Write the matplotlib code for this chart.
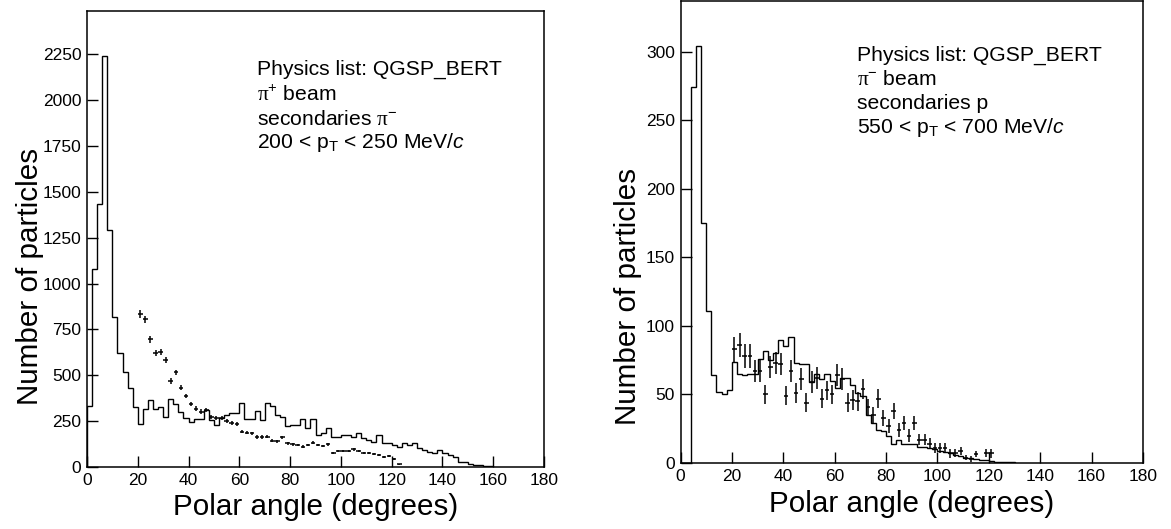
import numpy as np
import matplotlib
matplotlib.use("Agg")
import matplotlib.pyplot as plt

plt.rcParams['font.family'] = ['Liberation Sans', 'DejaVu Sans']
plt.rcParams['mathtext.fontset'] = 'custom'
plt.rcParams['mathtext.rm'] = 'Liberation Serif'
plt.rcParams['mathtext.it'] = 'Liberation Sans:italic'
plt.rcParams['mathtext.bf'] = 'Liberation Sans:bold'

# ---- left panel: pi+ beam, secondaries pi-, 200 < pT < 250 MeV/c
left_edges = np.arange(0, 162, 2)
left_sim = [334, 1080, 1435, 2240, 1290, 820, 624, 520, 429, 329,
            233, 318, 365, 318, 328, 274, 371, 344, 302, 265,
            247, 262, 262, 311, 256, 229, 265, 284, 293, 293,
            347, 262, 262, 308, 256, 347, 333, 282, 273, 226,
            229, 229, 260, 211, 260, 175, 184, 211, 165, 165,
            175, 175, 165, 184, 156, 147, 138, 175, 129, 129,
            120, 111, 129, 120, 129, 102, 93, 84, 78, 93,
            75, 65, 53, 29, 29, 16, 11, 11, 7, 5]
left_data_x = [21, 23, 25, 27, 29, 31, 33, 35, 37, 39, 41, 43, 45, 47, 49,
               51, 53, 55, 57, 59, 61, 63, 65, 67, 69, 71, 73, 75, 77, 79,
               81, 83, 85, 87, 89, 91, 93, 95, 97, 99, 101, 103, 105, 107,
               109, 111, 113, 115, 117, 119, 121, 123]
left_data_y = [835, 806, 697, 620, 626, 584, 469, 516, 433, 387, 344, 318,
               302, 311, 271, 265, 265, 253, 242, 235, 193, 187, 184, 164,
               164, 165, 144, 140, 162, 129, 124, 120, 111, 120, 133, 120,
               115, 124, 78, 87, 89, 87, 96, 87, 78, 75, 69, 65, 56, 62,
               44, 15]
left_data_err = [20, 20, 18, 17, 17, 16, 15, 15, 14, 13, 13, 12, 12, 12, 11,
                 11, 11, 11, 11, 10, 10, 9, 9, 9, 9, 9, 8, 8, 9, 8, 8, 8, 7,
                 8, 8, 8, 7, 8, 6, 6, 6, 6, 7, 6, 6, 6, 6, 5, 5, 5, 5, 3]

# ---- right panel: pi- beam, secondaries p, 550 < pT < 700 MeV/c
right_edges = np.arange(0, 132, 2)
right_sim = [0, 0, 274, 304, 175, 111, 64, 52, 50, 53,
             74, 65, 64, 65, 65, 76, 82, 75, 80, 90,
             85, 92, 73, 72, 72, 59, 65, 61, 65, 60,
             55, 62, 62, 57, 51, 49, 35, 29, 24, 23,
             20, 14, 17, 14, 14, 14, 12, 12, 11, 10,
             9, 8, 7, 6, 5, 4, 3.5, 3, 2, 2,
             1.5, 1, 1, 1, 0.5]
right_data_x = [21, 23, 25, 27, 29, 31, 33, 35, 37, 39, 41, 43, 45, 47, 49,
                51, 53, 55, 57, 59, 61, 63, 65, 67, 69, 71, 73, 75, 77, 79,
                81, 83, 85, 87, 89, 91, 93, 95, 97, 99, 101, 103, 105, 107,
                109, 111, 113, 115, 119, 121]
right_data_y = [83, 86, 78, 78, 67, 67, 50, 70, 73, 72, 49, 67, 51, 61, 44,
                59, 62, 47, 53, 50, 64, 61, 44, 46, 45, 54, 41, 35, 47, 33,
                27, 38, 24, 29, 20, 29, 17, 17, 14, 11, 11, 11, 7, 7.5, 9,
                4, 3, 6.6, 7.5, 7]
right_data_err = [9, 9, 9, 9, 8, 8, 7, 8, 8, 8, 7, 8, 7, 8, 7, 8, 8, 7, 7, 7,
                  8, 8, 7, 7, 7, 7, 6, 6, 7, 6, 5, 6, 5, 5, 4.5, 5, 4, 4, 4,
                  3.5, 3.5, 3.5, 3, 3, 3, 2, 2, 2.5, 3, 3]

left_text = ["Physics list: QGSP_BERT",
             r"$\mathrm{\pi}^{\mathregular{+}}$ beam",
             r"secondaries $\mathrm{\pi}^{\mathregular{-}}$",
             r"200 < p$_{\mathregular{T}}$ < 250 MeV/$\mathit{c}$"]
right_text = ["Physics list: QGSP_BERT",
              r"$\mathrm{\pi}^{\mathregular{-}}$ beam",
              "secondaries p",
              r"550 < p$_{\mathregular{T}}$ < 700 MeV/$\mathit{c}$"]

W, H = 1171, 529
fig = plt.figure(figsize=(W / 100, H / 100), dpi=100)
ax1 = fig.add_axes([87 / W, (H - 467) / H, 457 / W, 456 / H])
ax2 = fig.add_axes([680.5 / W, (H - 463) / H, 462.5 / W, 462 / H])

panels = [
    (ax1, left_edges, left_sim, left_data_x, left_data_y, left_data_err,
     2487, np.arange(0, 2251, 250), left_text, 0.372, [0.871, 0.816, 0.763, 0.711],
     (-0.125, 0.417)),
    (ax2, right_edges, right_sim, right_data_x, right_data_y, right_data_err,
     337, np.arange(0, 301, 50), right_text, 0.382, [0.883, 0.831, 0.779, 0.727],
     (-0.113, 0.36)),
]

for ax, edges, sim, dx, dy, derr, ytop, yticks, txt, tx, tys, ylab in panels:
    ax.stairs(sim, edges, color='black', lw=1.0)
    ax.errorbar(dx, dy, yerr=derr, xerr=0.9, fmt='none', ecolor='black',
                elinewidth=1.1, capsize=0)
    ax.set_xlim(0, 180)
    ax.set_ylim(0, ytop)
    ax.set_xticks(np.arange(0, 181, 20))
    ax.set_yticks(yticks)
    ax.tick_params(direction='in', length=8, width=1.0, labelsize=12.5, pad=4)
    for s in ax.spines.values():
        s.set_linewidth(1.1)
    ax.set_xlabel("Polar angle (degrees)", fontsize=21.3, va='center')
    ax.xaxis.set_label_coords(0.5, -0.088)
    ax.set_ylabel("Number of particles", fontsize=21.3, va='center')
    ax.yaxis.set_label_coords(*ylab)
    for t, ty in zip(txt, tys):
        ax.text(tx, ty, t, transform=ax.transAxes, fontsize=15.2,
                ha='left', va='center')

fig.savefig("out.png", dpi=100)
